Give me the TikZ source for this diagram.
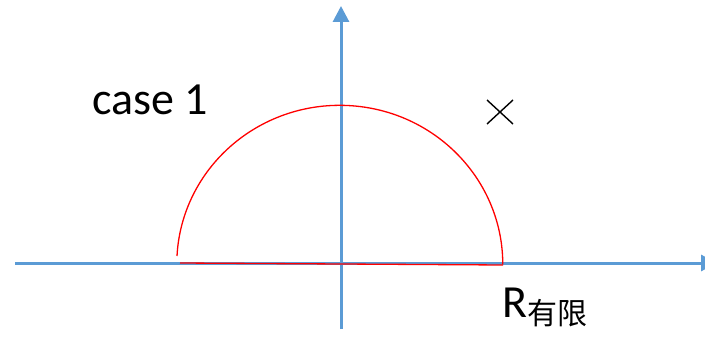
\documentclass[tikz,border=0pt]{standalone}
\usepackage{fontspec}
\setmainfont{Carlito}
\newfontfamily\cjkfont{Noto Sans CJK SC}
\usepackage{xcolor}
\usetikzlibrary{arrows.meta, calc}
\definecolor{axisblue}{HTML}{5B9BD5}
\definecolor{contourred}{HTML}{FF0000}

\begin{document}
\begin{tikzpicture}[
  x=1pt, y=-1pt,
  axisline/.style={draw=axisblue, line width=3pt,
              -{Triangle[length=16pt, width=16pt]}},
  contour/.style={draw=contourred, line width=1.3pt},
  polemark/.style={draw=black, line width=1.4pt},
  bigtext/.style={font=\fontsize{46}{50}\selectfont, inner sep=0pt},
]
  \useasboundingbox (0,0) rectangle (705,337);

  % axes
  \coordinate (xstart) at (15,263);
  \coordinate (xend)   at (717,263);
  \coordinate (ystart) at (341,329);
  \coordinate (yend)   at (341,6);
  \draw[axisline] (xstart) -- (xend);
  \draw[axisline] (ystart) -- (yend);

  % half circle contour
  \coordinate (arcleft)  at (177,256);
  \coordinate (lineleft) at (180,263);
  \coordinate (arcright) at (503,265);
  \draw[contour] (arcleft) arc[start angle=183, end angle=360,
                              x radius=163, y radius=159];
  \draw[contour] (lineleft) -- (arcright);

  % pole
  \coordinate (pole) at (500,112);
  \draw[polemark] ($(pole)+(-13,-12)$) -- ($(pole)+(13,12)$);
  \draw[polemark] ($(pole)+(13,-12)$) -- ($(pole)+(-13,12)$);

  % labels
  \node[bigtext, anchor=base west] (case) at (92,114) {case 1};
  \node[bigtext, anchor=base west] (rlabel) at (502,317)
    {R\raisebox{-7pt}{\fontsize{30}{32}\cjkfont 有限}};
\end{tikzpicture}
\end{document}
